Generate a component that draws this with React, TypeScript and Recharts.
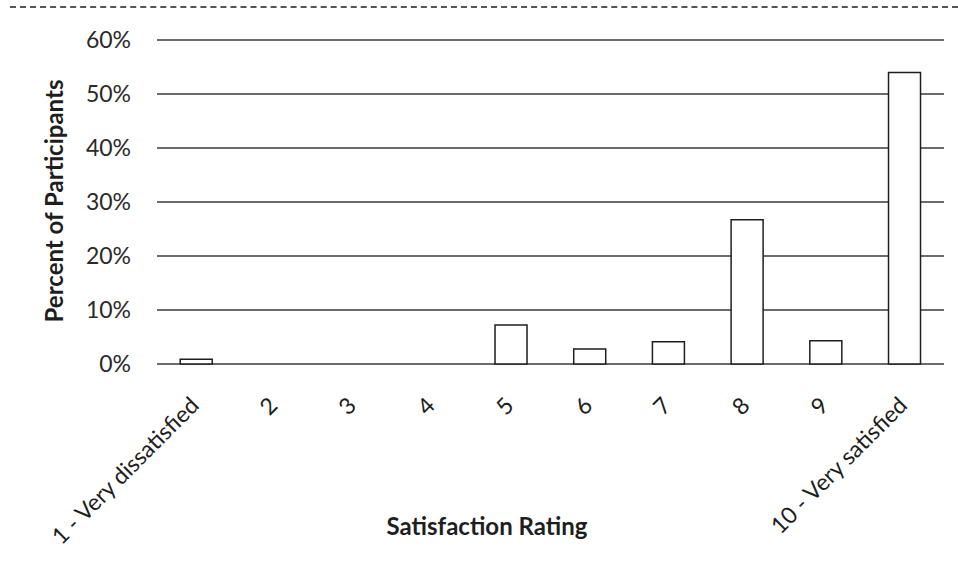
import { Bar, BarChart, CartesianGrid, Label, XAxis, YAxis } from "recharts";

const RATINGS = [
  "1 - Very dissatisfied",
  "2",
  "3",
  "4",
  "5",
  "6",
  "7",
  "8",
  "9",
  "10 - Very satisfied",
];
const PERCENTS = [0.9, 0, 0, 0, 7.2, 2.8, 4.1, 26.7, 4.3, 54];
const Y_TICKS = [0, 10, 20, 30, 40, 50, 60];

const INK = "#1e1e1e";
const GRID = "#3a3a3a";
const FONT = "Lato, 'Open Sans', sans-serif";

const data = RATINGS.map((rating, i) => ({ rating, pct: PERCENTS[i] }));

function YTick({ x, y, payload }: any) {
  return (
    <text
      x={x - 18}
      y={y}
      dy="0.36em"
      textAnchor="end"
      fontSize={23}
      fill="#2a2a2a"
      fontFamily={FONT}
    >
      {payload.value}%
    </text>
  );
}

function XTick({ x, payload }: any) {
  // rotated labels end just right of the category centre
  const ax = x + 4;
  const ay = 407;
  return (
    <text
      x={ax}
      y={ay}
      textAnchor="end"
      fontSize={23}
      fill={INK}
      fontFamily={FONT}
      transform={`rotate(-45 ${ax} ${ay})`}
    >
      {payload.value}
    </text>
  );
}

export default function App() {
  return (
    <div
      style={{
        position: "absolute",
        left: 0,
        top: 0,
        width: 958,
        height: 583,
        background: "#fff",
        fontFamily: FONT,
      }}
    >
      {/* remnant of the cropped title */}
      <div
        style={{
          position: "absolute",
          left: 10,
          right: 0,
          top: 6,
          borderTop: "2px dashed #555",
        }}
      />
      <BarChart
        width={958}
        height={583}
        data={data}
        margin={{ top: 40, right: 14, left: 0, bottom: 0 }}
        barCategoryGap="29.5%"
      >
        <CartesianGrid
          horizontal
          vertical={false}
          stroke={GRID}
          strokeWidth={1.4}
        />
        <XAxis
          dataKey="rating"
          interval={0}
          height={219}
          axisLine={false}
          tickLine={false}
          tick={<XTick />}
        >
          <Label
            content={() => (
              <text
                x={487}
                y={535}
                textAnchor="middle"
                fontSize={24}
                fontWeight={700}
                fill={INK}
                fontFamily={FONT}
              >
                Satisfaction Rating
              </text>
            )}
          />
        </XAxis>
        <YAxis
          width={157}
          domain={[0, 60]}
          ticks={Y_TICKS}
          axisLine={false}
          tickLine={false}
          tick={<YTick />}
        >
          <Label
            content={() => (
              <text
                x={53}
                y={201}
                textAnchor="middle"
                dominantBaseline="central"
                fontSize={24}
                fontWeight={700}
                fill={INK}
                fontFamily={FONT}
                transform="rotate(-90 53 201)"
              >
                Percent of Participants
              </text>
            )}
          />
        </YAxis>
        <Bar
          dataKey="pct"
          fill="#ffffff"
          stroke={INK}
          strokeWidth={1.5}
          isAnimationActive={false}
        />
      </BarChart>
    </div>
  );
}
